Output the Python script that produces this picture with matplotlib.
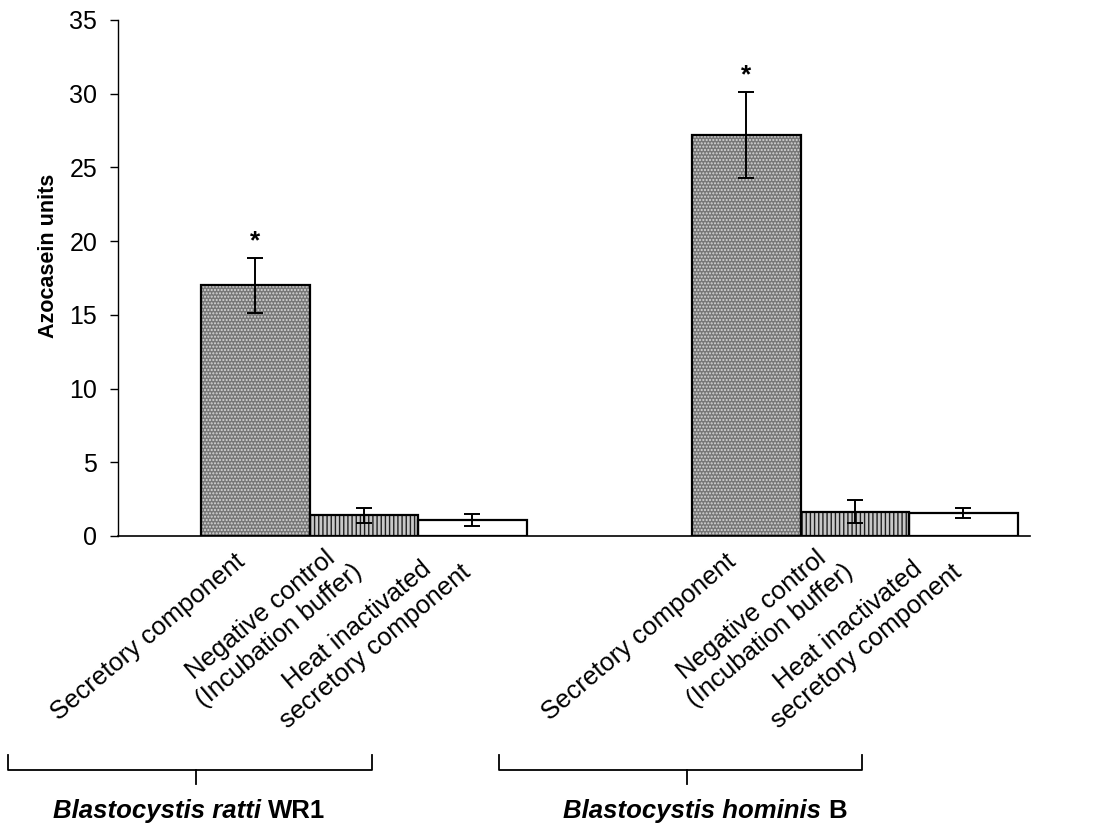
import numpy as np
import matplotlib
matplotlib.use('Agg')
import matplotlib.pyplot as plt
from matplotlib.transforms import ScaledTranslation

plt.rcParams['font.family'] = ['Liberation Sans', 'DejaVu Sans']

groups = ['Blastocystis ratti', 'Blastocystis hominis']
group_suffix = ['WR1', 'B']
categories = ['Secretory component',
              'Negative control\n(Incubation buffer)',
              'Heat inactivated\nsecretory component']
values = [[17.0, 1.4, 1.1],
          [27.2, 1.65, 1.55]]
errors = [[1.85, 0.5, 0.4],
          [2.9, 0.8, 0.32]]
significant = [[True, False, False],
               [True, False, False]]

fig = plt.figure(figsize=(10.96, 8.31), dpi=100)
ax = fig.add_axes([0.1077, 0.355, 0.8321, 0.621])

group_start = [0.0, 4.525]
width = 1.0
faces = ['#777777', '#c8c8c8', 'white']
hatches = ['.....', '||||', None]
hatch_cols = ['#d8d8d8', '#202020', None]

xs_all, labels_all = [], []
for g in range(len(groups)):
    xs = group_start[g] + np.arange(len(categories)) * width
    for i, x in enumerate(xs):
        if hatches[i]:
            ax.bar(x, values[g][i], width=width, color=faces[i], hatch=hatches[i],
                   edgecolor=hatch_cols[i], linewidth=0, zorder=2)
        else:
            ax.bar(x, values[g][i], width=width, color=faces[i], linewidth=0, zorder=2)
        ax.bar(x, values[g][i], width=width, fill=False, edgecolor='black',
               linewidth=1.6, zorder=3)
        ax.errorbar(x, values[g][i], yerr=errors[g][i], fmt='none', ecolor='black',
                    elinewidth=1.4, capsize=6, capthick=1.4, zorder=4)
        if significant[g][i]:
            ax.text(x, values[g][i] + errors[g][i] + 0.35, '*', ha='center', va='bottom',
                    fontsize=19, fontweight='bold')
    xs_all.extend(xs)
    labels_all.extend(categories)

ax.set_xlim(-1.267, 7.14)
ax.set_ylim(0, 35)
ax.set_yticks(np.arange(0, 36, 5))
ax.tick_params(axis='y', labelsize=18, length=5.5, width=1, direction='out', pad=9.5)
ax.set_xticks(xs_all)
ax.set_xticklabels(labels_all, rotation=40, ha='right', va='center',
                   rotation_mode='anchor', fontsize=18.5, multialignment='center')
ax.tick_params(axis='x', length=0, pad=16)
shift = ScaledTranslation(-14 / 100, 0, fig.dpi_scale_trans)
for lab in ax.get_xticklabels():
    lab.set_transform(lab.get_transform() + shift)
for s in ['top', 'right']:
    ax.spines[s].set_visible(False)
ax.spines['left'].set_linewidth(1)
ax.spines['bottom'].set_linewidth(1.2)
ax.set_ylabel('Azocasein units', fontsize=15.5, fontweight='bold')
ax.yaxis.set_label_coords(-0.065, 0.543)

# group brackets and labels below the tick labels
trans = ax.get_xaxis_transform()
label_nudge = [-0.06, 0.17]
texts = []
for g in range(len(groups)):
    c = group_start[g] + width
    left, right, mid = c - 3.28, c + 0.07, c - 1.55
    ax.plot([left, left, right, right], [-0.424, -0.4535, -0.4535, -0.424],
            color='black', lw=1.3, transform=trans, clip_on=False)
    ax.plot([mid, mid], [-0.4535, -0.4806], color='black', lw=1.3,
            transform=trans, clip_on=False)
    t1 = ax.text(mid + label_nudge[g], -0.5465, groups[g] + ' ', transform=trans,
                 ha='left', va='baseline', fontsize=18.5, fontweight='bold',
                 fontstyle='italic')
    t2 = ax.annotate(group_suffix[g], xy=(1, 0), xycoords=t1, ha='left', va='bottom',
                     fontsize=18.5, fontweight='bold')
    texts.append((t1, t2))

fig.canvas.draw()
r = fig.canvas.get_renderer()
for t1, t2 in texts:
    w = t1.get_window_extent(r).width + t2.get_window_extent(r).width
    t1.set_transform(trans + ScaledTranslation(-w / 2 / fig.dpi, 0, fig.dpi_scale_trans))

fig.savefig('out.png', dpi=100, facecolor='white')
